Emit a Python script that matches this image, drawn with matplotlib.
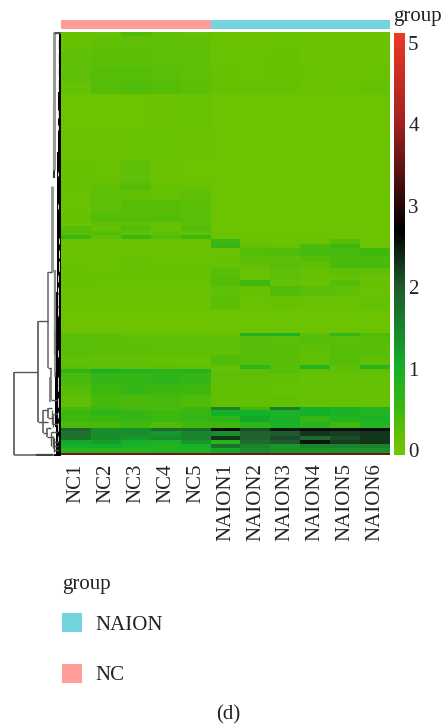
import matplotlib
matplotlib.use("Agg")
import matplotlib.pyplot as plt
import numpy as np
from matplotlib.colors import LinearSegmentedColormap
from matplotlib.patches import Rectangle

plt.rcParams['font.family'] = ['Liberation Serif', 'DejaVu Serif']

W, H = 442, 725

samples = ["NC1", "NC2", "NC3", "NC4", "NC5",
           "NAION1", "NAION2", "NAION3", "NAION4", "NAION5", "NAION6"]
groups = ["NC"] * 5 + ["NAION"] * 6

# band edges in rows, top of the heatmap is 0
band_edges = [0, 4, 18, 34, 50, 62, 98, 128, 151, 158, 168, 180, 190, 194, 199, 203,
              207, 212, 216, 224, 230, 236, 244, 248, 254, 264, 278, 301, 304, 313,
              323, 333, 337, 341, 353, 363, 375, 378, 384, 390, 396, 399, 404, 408,
              412, 416, 421, 423]

nc_expr = [
    [.12, .15, .35, .20, .15], [.12, .18, .20, .18, .18], [.18, .22, .22, .20, .20],
    [.20, .28, .30, .25, .20], [.15, .28, .33, .28, .22], [.07, .07, .07, .08, .10],
    [.08, .08, .10, .10, .08], [.12, .10, .18, .08, .06], [.12, .16, .28, .14, .12],
    [.10, .20, .16, .12, .20], [.10, .20, .28, .26, .22], [.12, .28, .30, .30, .24],
    [.10, .20, .20, .12, .25], [.25, .12, .30, .14, .32], [.30, .32, .20, .20, .20],
    [.55, .20, .55, .30, .50], [.10, .10, .10, .10, .10], [.08, .08, .08, .08, .08],
    [.08, .08, .08, .09, .08], [.09, .09, .12, .10, .08], [.10, .09, .14, .10, .10],
    [.12, .10, .12, .12, .12], [.10, .12, .10, .11, .10], [.12, .10, .10, .10, .11],
    [.10, .10, .09, .10, .10], [.08, .08, .08, .08, .08], [.05, .05, .05, .05, .05],
    [.22, .20, .18, .18, .16], [.24, .22, .20, .20, .18], [.25, .22, .22, .20, .20],
    [.16, .16, .16, .14, .14], [.22, .20, .20, .20, .18], [.70, .95, .85, .75, .80],
    [.40, .60, .65, .70, .60], [.30, .50, .60, .55, .50],
    [.20, .45, .40, .45, .35], [.45, .50, .40, .40, .55], [.55, .70, .60, .50, .60],
    [.50, .55, .60, .55, .60], [.40, .40, .50, .35, .50], [1.9, 1.4, 1.4, 1.8, 1.8],
    [1.7, 1.4, 1.4, 1.3, 1.5], [1.7, 1.4, 1.3, 1.4, 1.5], [1.1, 1.2, 1.0, .90, 1.3],
    [1.0, 1.0, .90, .80, .95], [.80, .75, .80, .85, .90], [3.6, 3.6, 3.6, 3.6, 3.6],
]

naion_expr = [
    [.10, .10, .10, .08, .08, .08], [.08, .08, .10, .08, .08, .08], [.10, .10, .12, .08, .08, .08],
    [.12, .10, .12, .10, .08, .10], [.12, .14, .14, .09, .10, .14], [.06, .06, .06, .06, .06, .06],
    [.06, .06, .06, .06, .06, .06], [.06, .06, .06, .06, .06, .06], [.06, .06, .06, .06, .06, .06],
    [.06, .06, .06, .06, .06, .06], [.06, .06, .06, .06, .06, .06], [.06, .06, .06, .06, .06, .06],
    [.06, .06, .06, .06, .06, .06], [.06, .06, .06, .06, .06, .06], [.06, .06, .06, .06, .06, .06],
    [.06, .06, .06, .06, .06, .06], [.55, .10, .08, .08, .30, .06], [.60, .20, .15, .42, .50, .06],
    [.10, .30, .35, .45, .45, .50], [.10, .22, .20, .30, .38, .38], [.15, .20, .25, .20, .42, .42],
    [.25, .10, .20, .12, .20, .20], [.28, .10, .20, .10, .12, .10], [.30, .50, .15, .10, .30, .12],
    [.18, .12, .35, .25, .20, .10], [.22, .10, .12, .10, .10, .14], [.07, .07, .07, .06, .06, .06],
    [.14, .80, .90, .25, .60, .35], [.20, .28, .25, .30, .25, .30], [.18, .28, .26, .20, .30, .25],
    [.32, .26, .24, .18, .30, .20], [.16, .70, .26, .80, .18, .75], [.15, .20, .30, .20, .20, .20],
    [.20, .20, .18, .15, .15, .15], [.16, .16, .15, .13, .13, .13], [.17, .17, .17, .15, .15, .15],
    [1.5, .50, 1.6, 1.0, .90, .80], [1.0, 1.0, .90, 1.0, .90, .85], [.70, 1.1, .95, .60, .80, .90],
    [.50, .70, .90, .75, .50, .80], [2.6, 2.1, 2.5, 2.6, 2.6, 2.6], [1.4, 1.9, 2.0, 2.3, 2.2, 2.3],
    [2.3, 1.9, 2.1, 1.8, 2.1, 2.3], [.75, 1.8, 2.0, 2.5, 2.2, 2.3], [1.7, 1.5, 1.3, 1.5, 1.5, 1.5],
    [1.1, 1.4, 1.3, 1.3, 1.35, 1.35], [3.6, 3.6, 3.6, 3.6, 3.6, 3.6],
]

cbar_ticks = [0, 1, 2, 3, 4, 5]
cbar_levels = [0, .5, 1, 2, 2.7, 4, 5.12]
cbar_colors = ["#72C400", "#3FB80E", "#14B02A", "#1F5A2E", "#000000", "#A02020", "#EA3A25"]

# dendrogram links: height (px left of the heatmap), row top, row bottom
link_height = [47, 23, 13, 18, 9, 7.5, 7, 6, 13, 14, 10, 9, 8, 11, 10, 8, 7, 6]
link_top = [340, 289, 240, 378, 154, 68, 0, 238, 376, 396, 336, 378, 382, 345, 400, 404, 406, 300]
link_bottom = [423, 390, 336, 401, 240, 146, 138, 323, 386, 405, 368, 392, 395, 370, 414, 416, 420, 345]
link_color = ["#555555", "#555555", "#666666", "#555555", "#999999", "#333333", "#999999", "#888888", "#555555", "#555555",
              "#777777", "#666666", "#666666", "#777777", "#555555", "#555555", "#444444", "#777777"]
link_width = [1.2, 1.2, 1.1, 1.1, 2.2, 1.5, 2.2, 1.6, 1.1, 1.1, 1.2, 1.0, 1.0, 1.2, 1.0, 1.0, 1.0, 1.2]
# horizontal stems: row, from height, to height
stem_row = [340, 390, 289, 378, 401, 240, 0, 376, 386, 396, 405, 336, 368, 392, 400, 414, 1, 382, 410, 418]
stem_from = [47, 23, 23, 18, 18, 13, 7, 13, 13, 14, 14, 13, 10, 9, 10, 8, 7, 8, 8, 7]
stem_to = [23, 13, 13, 13, 14, 9, 0, 9, 8, 10, 8, 10, 4, 3, 4, 3, 0, 3, 3, 2]
# bottom link that runs along the heatmap edge
bottom_from = [47, 25, 8]
bottom_to = [25, 8, 0]
bottom_color = ["#666666", "#444444", "#000000"]
bottom_width = [1.2, 1.6, 2.0]
# solid black core beside the heatmap: row from, row to, height
core_top = [0, 60, 120, 190, 260, 340, 395]
core_bottom = [60, 120, 190, 260, 340, 395, 423]
core_width = [2.5, 3, 4.5, 4, 5, 6, 5.5]
# pale gaps in that core
gap_row = [8, 20, 34, 48, 78, 93, 140, 172, 206, 218, 229, 243, 255, 262, 275, 318, 345, 353, 366, 380, 391, 404]
gap_len = [9, 12, 9, 10, 8, 5, 4, 5, 6, 8, 10, 7, 6, 12, 9, 7, 8, 6, 9, 6, 8, 5]
gap_height = [3.5, 3.5, 3.5, 3.5, 3, 3, 3, 3, 2.5, 2.5, 2.5, 3, 3, 3, 3, 3.5, 3, 3, 3.5, 3, 3, 3]

group_colors = {"NC": "#FF9E98", "NAION": "#74D4DE"}


def px_axes(fig, left, top, right, bottom):
    """Axes placed by pixel box, y measured from the top of the image."""
    ax = fig.add_axes([left / W, 1 - bottom / H, (right - left) / W, (bottom - top) / H])
    return ax


def main():
    fig = plt.figure(figsize=(W / 100, H / 100), dpi=100)
    cmap = LinearSegmentedColormap.from_list(
        "expr", [(v / cbar_levels[-1], c) for v, c in zip(cbar_levels, cbar_colors)])

    # heatmap
    ax = px_axes(fig, 61, 32, 390, 455)
    values = np.hstack([np.array(nc_expr), np.array(naion_expr)])
    ax.pcolormesh(np.arange(len(samples) + 1), band_edges, values, cmap=cmap, vmin=0, vmax=5.12)
    ax.set_ylim(band_edges[-1], 0)
    ax.set_xticks(np.arange(len(samples)) + 0.5)
    ax.set_xticklabels(samples, rotation=90, fontsize=15, color="#222222")
    ax.tick_params(axis="x", length=0, pad=6)
    ax.set_yticks([])
    for s in ax.spines.values():
        s.set_visible(False)

    # annotation bar
    ax_bar = px_axes(fig, 61, 20, 390, 29)
    for i, g in enumerate(groups):
        ax_bar.bar(i + 0.5, 1, width=1, color=group_colors[g], linewidth=0)
    ax_bar.set_xlim(0, len(samples))
    ax_bar.set_ylim(0, 1)
    ax_bar.axis("off")
    fig.text(393 / W, 1 - 16 / H, "group", fontsize=15, color="#222222", va="center", ha="left")

    # dendrogram
    ax_den = px_axes(fig, 10, 32, 61, 456)
    ax_den.set_xlim(51, 0)
    ax_den.set_ylim(424, 0)
    ax_den.axis("off")
    ax_den.vlines(link_height, link_top, link_bottom, colors=link_color, linewidth=link_width)
    ax_den.hlines(stem_row, stem_from, stem_to, colors="#555555", linewidth=1.0)
    ax_den.hlines([423] * 3, bottom_from, bottom_to, colors=bottom_color, linewidth=bottom_width)
    for t, b, w in zip(core_top, core_bottom, core_width):
        ax_den.add_patch(Rectangle((0, t), w, b - t, color="black", linewidth=0))
    ax_den.vlines(gap_height, gap_row, np.add(gap_row, gap_len), colors="#DDDDDD", linewidth=0.7)

    # colorbar
    ax_c = px_axes(fig, 394, 33, 404, 455)
    grad = np.linspace(5.12, -0.06, 256).reshape(-1, 1)
    ax_c.imshow(grad, aspect="auto", cmap=cmap, vmin=0, vmax=5.12, extent=[0, 1, -0.06, 5.12])
    ax_c.set_xticks([])
    ax_c.yaxis.tick_right()
    ax_c.set_yticks(cbar_ticks)
    ax_c.tick_params(axis="y", length=0, pad=3, labelsize=15, labelcolor="#222222")
    for s in ax_c.spines.values():
        s.set_visible(False)

    # legend
    fig.text(62 / W, 1 - 585 / H, "group", fontsize=15, color="#222222", va="center")
    for name, top in zip(["NAION", "NC"], [613, 664]):
        fig.patches.append(Rectangle((62 / W, 1 - (top + 19) / H), 20 / W, 19 / H,
                                     transform=fig.transFigure, color=group_colors[name], linewidth=0))
        fig.text(95 / W, 1 - (top + 12) / H, name, fontsize=15, color="#222222", va="center")
    fig.text(228 / W, 1 - 715 / H, "(d)", fontsize=15, color="#222222", va="center", ha="center")

    fig.savefig("out.png", dpi=100)


if __name__ == "__main__":
    main()
